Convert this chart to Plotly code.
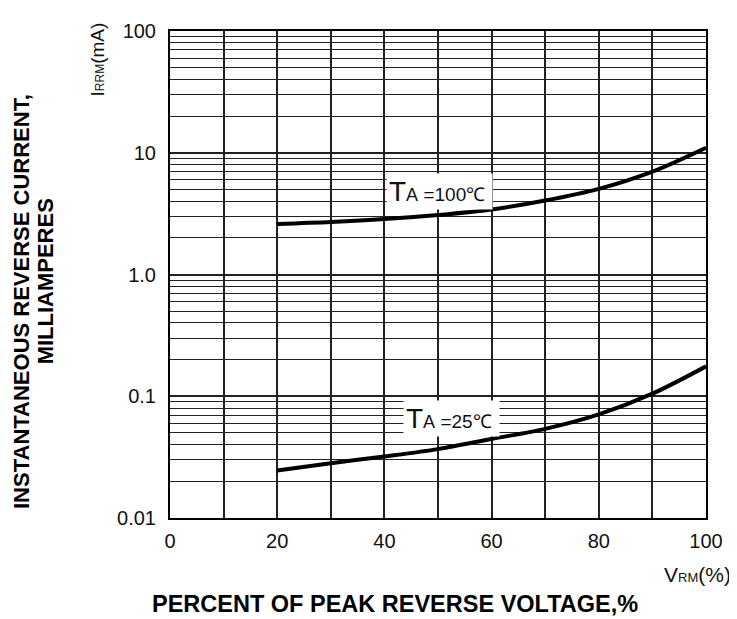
import plotly.graph_objects as go

# ---- data ----
x_pct = [20, 30, 40, 50, 60, 70, 80, 90, 100]
i_100C = [2.6, 2.7, 2.85, 3.08, 3.42, 4.05, 5.05, 7.0, 11.0]
i_25C = [0.0246, 0.0282, 0.032, 0.0368, 0.0446, 0.054, 0.071, 0.105, 0.176]

x_ticks = [0, 20, 40, 60, 80, 100]
y_ticks = [0.01, 0.1, 1, 10, 100]
y_ticktext = ["0.01", "0.1", "1.0", "10", "100"]

FONT = "Liberation Sans, Arial, sans-serif"

# page offset (body margin) and target plot box in screen pixels
OFF = 8
W, H = 737, 619
PL, PR, PT, PB = 170, 706, 22, 518
L, T = PL - OFF, PT - OFF
R, B = W + OFF - PR, H + OFF - PB

fig = go.Figure()
for ys in (i_100C, i_25C):
    fig.add_trace(go.Scatter(x=x_pct, y=ys, mode="lines",
                             line=dict(color="black", width=4, shape="spline", smoothing=0.9),
                             showlegend=False, hoverinfo="skip"))

fig.update_layout(
    width=W, height=H,
    margin=dict(l=L, r=R, t=T, b=B),
    paper_bgcolor="white", plot_bgcolor="white",
    font=dict(family=FONT, color="#111", size=20),
    xaxis=dict(range=[0, 100], tickvals=x_ticks, ticks="", showgrid=True,
               gridcolor="#222", gridwidth=2, ticklabelstandoff=4,
               minor=dict(dtick=10, showgrid=True, gridcolor="#222", gridwidth=2),
               showline=True, linecolor="black", linewidth=2, mirror=True,
               zeroline=False, tickfont=dict(size=20)),
    yaxis=dict(type="log", range=[-2, 2], tickvals=y_ticks, ticktext=y_ticktext,
               ticks="", showgrid=True, gridcolor="#222", gridwidth=2, ticklabelstandoff=8,
               minor=dict(dtick="D1", showgrid=True, gridcolor="#222", gridwidth=1.3),
               showline=True, linecolor="black", linewidth=2, mirror=True,
               zeroline=False, tickfont=dict(size=20)),
)

def px(xpix):
    return (xpix - PL) / (PR - PL)

def py(ypix):
    return 1 - (ypix - PT) / (PB - PT)

lbl = "<span style='font-size:28px'>T</span><span style='font-size:18px'>A</span> =%s℃"
annos = [
    dict(x=px(386), y=py(185), xref="paper", yref="paper",
         text=lbl % "100" + "&nbsp;", showarrow=False, xanchor="left", yanchor="middle",
         bgcolor="white", borderpad=2, font=dict(size=19, color="#111")),
    dict(x=px(403), y=py(417), xref="paper", yref="paper",
         text=lbl % "25" + "&nbsp;", showarrow=False, xanchor="left", yanchor="middle",
         bgcolor="white", borderpad=2, font=dict(size=19, color="#111")),
    dict(x=px(97), y=py(51), xref="paper", yref="paper", xanchor="center", yanchor="middle",
         text="I<span style='font-size:12px'>RRM</span>(mA)", textangle=-90, showarrow=False,
         font=dict(size=19, color="#111")),
    dict(x=px(697), y=py(576), xref="paper", yref="paper", xanchor="center", yanchor="middle",
         text="V<span style='font-size:13px'>RM</span>(%)", showarrow=False,
         font=dict(size=21, color="#111")),
    dict(x=px(395), y=py(606), xref="paper", yref="paper", xanchor="center", yanchor="middle",
         text="<b>PERCENT OF PEAK REVERSE VOLTAGE,%</b>", showarrow=False,
         font=dict(size=23.5, color="black")),
    dict(x=px(22), y=py(298), xref="paper", yref="paper", xanchor="center", yanchor="middle",
         text="<b>INSTANTANEOUS REVERSE CURRENT,</b>", textangle=-90, showarrow=False,
         font=dict(size=22, color="black")),
    dict(x=px(45), y=py(277), xref="paper", yref="paper", xanchor="center", yanchor="middle",
         text="<b>MILLIAMPERES</b>", textangle=-90, showarrow=False,
         font=dict(size=22, color="black")),
]
fig.update_layout(annotations=annos)

fig.write_html("out.html")
